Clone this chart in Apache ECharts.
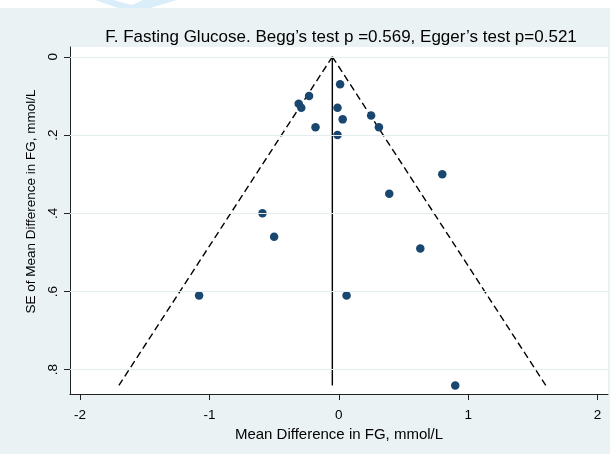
<!DOCTYPE html>
<html>
<head>
<meta charset="utf-8">
<script src="https://cdn.jsdelivr.net/npm/echarts@6/dist/echarts.min.js"></script>
<style>
  html, body { margin: 0; padding: 0; background: #ffffff; }
  #chart { width: 610px; height: 454px; }
</style>
</head>
<body>
<div id="chart"></div>
<script>
// Study-level estimates: mean difference in fasting glucose and its standard error
const meanDiff   = [0.01, -0.23, -0.31, -0.29, -0.01, 0.03, -0.18, -0.01, 0.25, 0.31, 0.80, 0.39, -0.59, -0.50, 0.63, -1.08, 0.06, 0.90];
const seMeanDiff = [0.07,  0.10,  0.12,  0.13,  0.13, 0.16,  0.18,  0.20, 0.15, 0.18, 0.30, 0.35,  0.40,  0.46, 0.49,  0.61, 0.61, 0.84];

// Pooled estimate and pseudo 95% confidence limits of the funnel
const pooledMD   = -0.05;
const limitSE    = [0, 0.84];
const lowerLimit = [-0.05, -1.70];
const upperLimit = [-0.05, 1.60];

// Axis ticks
const xTicks = [-2, -1, 0, 1, 2];
const yTicks = [0, 0.2, 0.4, 0.6, 0.8];

const titleText = 'F. Fasting Glucose. Begg\u2019s test p =0.569, Egger\u2019s test p=0.521';
const xTitle = 'Mean Difference in FG, mmol/L';
const yTitle = 'SE of Mean Difference in FG, mmol/L';

const FONT = '"Liberation Sans", Arial, sans-serif';
const BG = '#EAF2F3';
const NAVY = '#1A476F';

const chart = echarts.init(document.getElementById('chart'), null, { renderer: 'canvas' });

const points = meanDiff.map((x, i) => [x, seMeanDiff[i]]);
const pooledLine = limitSE.map(se => [pooledMD, se]);
const lowerLine = limitSE.map((se, i) => [lowerLimit[i], se]);
const upperLine = limitSE.map((se, i) => [upperLimit[i], se]);

const fmtY = v => (v === 0 ? '0' : String(+v.toFixed(1)).replace(/^0/, ''));

chart.setOption({
  backgroundColor: BG,
  animation: false,
  title: {
    text: titleText,
    left: 336,
    textAlign: 'center',
    top: 24,
    textStyle: { fontFamily: FONT, fontSize: 17, fontWeight: 'normal', color: '#000' }
  },
  graphic: [
    // white header strip with the faint emblem
    { type: 'rect', left: 0, top: 0, shape: { width: 610, height: 8 }, style: { fill: '#ffffff' }, silent: true },
    { type: 'polygon', shape: { points: [[95, 0], [177, 0], [150, 8], [118, 8]] }, style: { fill: '#D9EEF8' }, silent: true },
    { type: 'polygon', shape: { points: [[113, 0], [143, 0], [132, 5]] }, style: { fill: '#ffffff' }, silent: true }
  ],
  grid: {
    left: 70, top: 47, width: 538, height: 347,
    show: true, backgroundColor: '#ffffff', borderWidth: 0
  },
  xAxis: {
    type: 'value',
    min: -2.078, max: 2.081,
    name: xTitle,
    nameLocation: 'middle',
    nameGap: 28,
    nameTextStyle: { fontFamily: FONT, fontSize: 15, color: '#000' },
    axisLine: { show: true, onZero: false, lineStyle: { color: '#222', width: 1 } },
    axisTick: { show: true, length: 6, customValues: xTicks, lineStyle: { color: '#222' } },
    axisLabel: { customValues: xTicks, margin: 14, fontFamily: FONT, fontSize: 13.5, color: '#000' },
    splitLine: { show: false }
  },
  yAxis: {
    type: 'value',
    inverse: true,
    min: -0.025, max: 0.862,
    name: yTitle,
    nameLocation: 'middle',
    nameRotate: 90,
    nameGap: 31,
    nameTextStyle: { fontFamily: FONT, fontSize: 13.5, color: '#000', padding: [0, 0, 0, 38] },
    axisLine: { show: true, onZero: false, lineStyle: { color: '#222', width: 1 } },
    axisTick: { show: true, length: 6, customValues: yTicks, lineStyle: { color: '#222' } },
    axisLabel: { customValues: yTicks, rotate: 90, margin: 10, fontFamily: FONT, fontSize: 13.5, color: '#000', formatter: fmtY },
    splitLine: { show: false }
  },
  series: [
    {
      // horizontal grid lines at the y ticks
      type: 'line', data: [], silent: true, z: 1,
      markLine: {
        silent: true, symbol: 'none', label: { show: false },
        lineStyle: { color: '#E3ECEF', width: 1.2, type: 'solid' },
        data: yTicks.map(v => ({ yAxis: v }))
      }
    },
    {
      type: 'line', data: lowerLine, symbol: 'none', silent: true, z: 2,
      lineStyle: { color: '#000', width: 1.4, type: [7, 4] }
    },
    {
      type: 'line', data: upperLine, symbol: 'none', silent: true, z: 2,
      lineStyle: { color: '#000', width: 1.4, type: [7, 4] }
    },
    {
      type: 'line', data: pooledLine, symbol: 'none', silent: true, z: 2,
      lineStyle: { color: '#000', width: 1.4 }
    },
    {
      type: 'scatter', data: points, symbol: 'circle', symbolSize: 8.5, z: 3,
      itemStyle: { color: NAVY, opacity: 1 }
    }
  ]
});
</script>
</body>
</html>
